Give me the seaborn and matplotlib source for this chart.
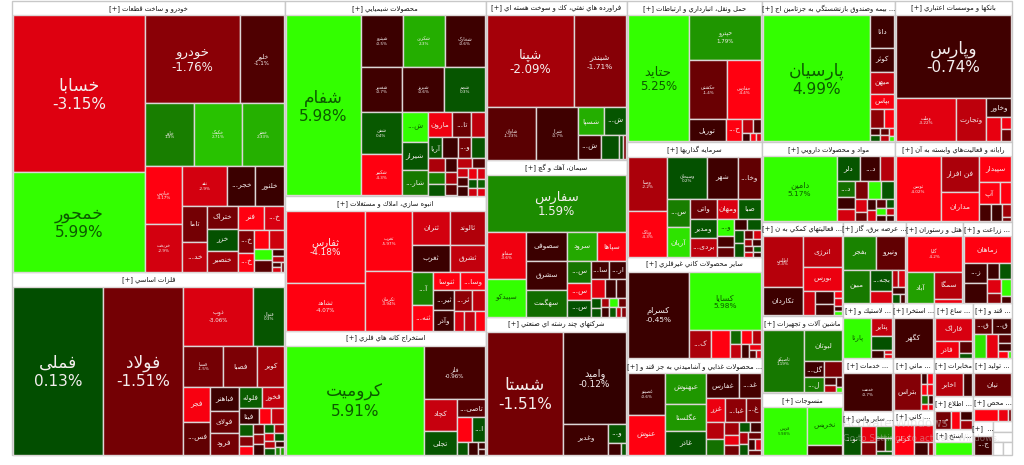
import unicodedata
import matplotlib
matplotlib.use("Agg")
import matplotlib.pyplot as plt
import seaborn as sns

# ---------- data: name, percent change and cell size of every symbol, per market sector ----------
auto_title = "خودرو و ساخت قطعات"
auto_names = ["خسابا","خمحور","خودرو","خلور","خاور","خکمک","خعتر","خپارس","خریخت","نقد","خجر...","خلنور","تاما","خد...","ختراک","خزر","خنصیر","فنر","خ...","خ...","خ...","","","","","","","","",""]
auto_pct = [-3.15,5.99,-1.76,-1.1,1.3,2.71,2.33,-4.17,-2.9,-2.9,-0.5,-0.4,-1.5,-2.6,-1.5,0.2,-2.0,-4.0,-3.0,-1.6,-4.0,-4.2,-2.8,5.5,-1.2,-0.9,-2.4,-0.8,-3.0,-1.5]
auto_size = [20567,13100,8160,3825,3087,3024,2646,2124,1728,1755,1131,1131,888,720,720,660,630,600,480,384,304,280,280,198,204,88,77,40,40,30]
auto_strips = [2,2,3,2,3,2,3,2,2,2,2]

metal_title = "فلزات اساسي"
metal_names = ["فملی","فولاد","ذوب","فنوال","فسپا","فصبا","کویر","فجر","فس...","فباهنر","فولای","فرود","فلوله","فخوز","فیتا","","","","","","","","","","","","","","","","",""]
metal_pct = [0.13,-1.51,-3.06,0.3,-1.5,-1.6,-2.0,-3.8,-1.3,-0.6,-1.4,-1.5,0.5,-2.6,-0.5,-4.3,-2.6,0.4,-1.7,-4.2,-1.3,-1.9,-0.6,0.3,-2.1,-3.0,0.2,-2.4,0.3,-0.5,1.4,2.0]
metal_size = [14952,13272,4060,1798,1600,1400,1080,910,858,672,616,616,483,462,320,192,208,168,140,126,110,110,110,90,90,85,80,70,70,50,40,30]
metal_strips = [1,1,2,3,2,3,2,3,3]

chem_title = "محصولات شيميايي"
chem_names = ["شفام","شپترو","شکربن","شخارک","شغدیر","شبریز","شجم","شفن","شکبیر","ش...","شیراز","شار...","مارون","تا...","","آریا","","و...","","","","","","","","","","","","","","","","","",""]
chem_pct = [5.98,-0.5,2.3,-0.6,-0.7,-0.6,0.3,0.4,-4.3,5.5,0.3,1.2,-3.6,-1.4,-2.5,0.3,-0.5,-1.5,0.3,-2.2,1.3,0.3,-0.7,-2.2,-1.2,-2.5,-1.1,-2.8,-1.0,-0.5,-3.5,-3.0,0.3,0.6,-2.8,-3.2]
chem_size = [12780,2064,2016,1968,1806,1806,1763,1634,1634,720,696,624,572,462,330,288,306,270,270,224,196,182,165,140,130,130,120,105,100,100,90,85,80,70,60,55]
chem_strips = [1,3,3,2,-3,3,4,3]

build_title = "انبوه سازي، املاك و مستغلات"
build_names = ["ثفارس","ثشاهد","ثغرب ","ثکرمان","ثتران","ثالوند","ثغرب","ثشرق","آ...","ثنه...","ثنوسا","وسا...","ثیر...","وآذر","ثر...","","","",""]
build_pct = [-4.18,-4.07,-5.97,-3.94,-2.9,-2.3,-0.5,-2.6,1.4,-4.2,-4.1,-4.0,-0.5,-0.6,-1.8,-2.5,-3.0,-2.6,-4.2]
build_size = [5616,3744,2760,2760,1287,1155,1053,945,693,525,468,450,400,400,380,260,200,200,190]
build_strips = [2,-2,2,2,2,2,-2,2,1]

mine_title = "استخراج كانه هاي فلزي"
mine_names = ["کرومیت","فلز","کچاد","تجلی","تاصی...","","ا...","","","",""]
mine_pct = [5.91,-0.96,-2.7,0.3,-1.2,-4.2,0.2,0.3,-0.6,-0.5,-0.7]
mine_size = [14933,3224,1056,759,522,384,312,143,130,49,42]
mine_strips = [1,1,2,1,2,1,1]

oil_title = "فراورده هاي نفتي، كك و سوخت هسته اي"
oil_names = ["شپنا","شبندر","شاوان","شراز","شسپا","ش...","ش...","","",""]
oil_pct = [-2.09,-1.71,-1.23,-0.7,2.3,0.3,-0.5,0.2,0.2,-1.6]
oil_size = [7830,4680,2544,2173,700,616,528,432,91,70]
oil_strips = [2,1,1,2,1,1,2]

cem_title = "سيمان، آهك و گچ"
cem_names = ["سفارس","سفانو","سپیدکو","سصوفی","سشرق","سهگمت","سرود","سپاها","س...","س...","س...","سا...","ار...","","","","","","","","","","","",""]
cem_pct = [1.59,-3.6,5.1,-0.5,-0.6,0.9,2.2,-4.0,1.1,-3.9,0.2,-0.9,-0.6,-3.3,-0.5,-0.6,0.2,0.3,-2.1,-0.6,4.8,-1.4,0.4,-2.6,-1.7]
cem_size = [7560,1776,1406,1140,1102,1026,832,806,528,396,374,300,285,256,208,176,85,80,75,75,70,65,60,50,45]
cem_strips = [1,2,3,2,3,2,3]

multi_title = "شركتهاي چند رشته اي صنعتي"
multi_names = ["شستا","واميد","وغدیر","و...","",""]
multi_pct = [-1.51,-0.12,-0.6,0.3,-0.6,0.3]
multi_size = [9348,5733,1364,342,143,55]
multi_strips = [1,1,1,1,1,1]

trans_title = "حمل ونقل، انبارداري و ارتباطات"
trans_names = ["حتاید","حپترو","حکشتی","حفارس","توریل","ح...","","","","",""]
trans_pct = [5.25,1.79,-1.4,-4.4,-0.6,-4.3,-2.4,-1.0,-0.5,-4.0,-2.9]
trans_size = [7560,3139,2242,1947,792,352,143,104,64,56,40]
trans_strips = [1,1,2,1,1,2]

inv_title = "سرمايه گذاريها"
inv_names = ["وصنا","وبانک","وسبحان","شهر","وخا...","س...","آریان","واتی","ومدیر","بردی...","ومهان","صبا","و...","","","","","","","","","","","","","",""]
inv_pct = [-2.2,-4.3,0.2,-0.7,-1.3,1.3,3.4,-1.4,0.3,-2.5,-3.1,0.4,5.0,-1.0,-1.3,-0.5,0.3,0.3,0.3,-1.3,-3.0,-2.0,-0.6,-1.3,-3.0,0.3,-0.6]
inv_size = [2052,1710,1600,1240,920,616,638,520,494,468,418,440,288,170,160,140,140,125,125,80,70,60,60,50,45,40,35]
inv_strips = [2,3,2,3,2,3]

nonmet_title = "ساير محصولات كاني غيرفلزي"
nonmet_names = ["کسرام","کسایا","ک...","","","","","","","","",""]
nonmet_pct = [-0.45,5.98,-2.2,-4.2,0.8,-2.6,-4.0,-2.3,-0.7,-3.5,-1.2,-3.0]
nonmet_size = [5220,4161,580,522,143,150,140,125,110,70,50,40]
nonmet_strips = [1,1,1,1]

food_title = "محصولات غذايي و آشاميدني به جز قند و"
food_names = ["غصینو","عنوش","عبهنوش","عگلستا","غاذر","غفارس","غد...","غزر","غبا...","غ...","","","","","","","","","","","","",""]
food_pct = [-0.6,-4.2,1.8,1.8,0.3,-0.6,-0.9,-3.5,-1.8,-1.6,-2.4,1.0,-2.0,-3.5,-1.5,0.3,-0.7,-2.2,0.3,-1.4,-0.6,-3.0,-1.3]
food_size = [1470,1365,1178,1026,874,770,506,420,441,336,285,252,165,135,120,110,100,100,90,80,75,60,50]
food_strips = [2,3,2,3,2]

ins_title = "بيمه وصندوق بازنشستگي به جزتامين اج"
ins_names = ["پارسیان","دانا","کوثر","میهن","بپاس","","","","","","","",""]
ins_pct = [4.99,-0.6,-0.7,-2.6,-3.8,-1.8,-4.2,-0.6,0.3,-1.3,-2.5,-3.5,4.0]
ins_size = [13356,750,575,500,350,266,190,72,60,58,50,40,30]
ins_strips = [1,1,1,1,1,2]

bank_title = "بانكها و موسسات اعتباري"
bank_names = ["وپارس","وملت","وتجارت","وخاور","","",""]
bank_pct = [-0.74,-3.22,-2.5,-0.6,-3.4,-3.6,-1.4]
bank_size = [9512,2580,1290,475,360,120,120]
bank_strips = [1,1,1,1,1,1,1]

drug_title = "مواد و محصولات دارويي"
drug_names = ["دامین","دلر","د...","","د...","","","","","","","","","","","","","","",""]
drug_pct = [5.17,0.3,-0.6,-2.4,1.0,-0.5,-2.9,-1.6,5.5,0.3,-3.1,-1.4,-0.7,-3.0,-1.2,0.3,5.0,-0.6,-2.6,-0.5]
drug_size = [4550,552,460,322,272,221,204,224,224,224,150,100,90,90,90,70,70,60,50,45]
drug_strips = [1,3,3,3]

it_title = "رايانه و فعاليت\u200cهاي وابسته به آن"
it_names = ["توسن","فن افزار","مداران","سپیدار","آپ","","","","",""]
it_pct = [-4.02,-2.2,-4.2,-4.1,-4.2,-4.0,-1.0,-0.5,-2.0,-1.5]
it_size = [2860,1330,1102,792,441,252,190,190,110,40]
it_strips = [1,2,1,2,1,1]

aux_title = "فعاليتهاي كمكي به ن"
aux_names = ["اطلس","تکاردان","انرژی","بورس","","","","","","",""]
aux_pct = [-2.4,-0.6,-2.5,-3.5,-2.8,-0.6,-0.7,-4.1,-3.0,-0.5,5.0]
aux_size = [1920,1080,1102,874,286,228,190,60,60,40,30]
aux_strips = [2,1,1,1,2]

mach_title = "ماشين آلات و تجهيزات"
mach_names = ["تاصیکو","لبوتان","گل...","ل...","","","","",""]
mach_pct = [1.19,1.3,-0.6,1.3,-1.6,-1.0,-2.4,-0.7,5.0]
mach_size = [2542,1140,304,285,288,90,90,60,30]
mach_strips = [1,1,2,1]

text_title = "منسوجات"
text_names = ["قرس","نخریس",""]
text_pct = [5.98,5.6,-0.7]
text_size = [2068,1330,315]
text_strips = [1,1]

power_title = "عرضه برق، گاز"
power_names = ["بفجر","ونیرو","مبین","بجه...","","","","","",""]
power_pct = [1.4,-1.3,1.2,0.3,-3.0,-2.4,-3.0,-0.6,0.3,-1.0]
power_size = [960,840,770,420,231,100,100,80,60,40]
power_strips = [2,1,2,2]

hotel_title = "هتل و رستوران"
hotel_names = ["گلپا","آباد","سمگا",""]
hotel_pct = [-4.2,2.0,-2.4,-3.5]
hotel_size = [1904,840,728,112]
hotel_strips = [1,1,1]

farm_title = "زراعت و"
farm_names = ["زماهان","ز...","","","","","","",""]
farm_pct = [-4.1,-0.6,-0.6,-0.6,0.3,-3.2,-1.8,5.0,-0.9]
farm_size = [1104,420,400,169,169,156,117,156,60]
farm_strips = [1,2,2,2]

tire_title = "لاستيك و"
tire_names = ["پارتا","پتایر","","","",""]
tire_pct = [5.2,-2.6,0.2,-0.6,-3.0,-3.5]
tire_size = [1107,378,294,112,32,30]
tire_strips = [1,1,1,1]

serv_title = "خدمات"
serv_names = ["خدمت"]
serv_pct = [-0.7]
serv_size = [1824]

other_title = "ساير واس"
other_names = ["تو...","","","","","",""]
other_pct = [0.3,-3.4,-1.7,1.3,-0.8,1.0,0.3]
other_size = [495,252,200,190,110,90,60]
other_strips = [1]

ext_title = "استخرا"
ext_names = ["کگهر"]
ext_pct = [-0.7]
ext_size = [1406]

sug_title = "ساع"
sug_names = ["فاراک","فاذر","",""]
sug_pct = [-3.0,-3.6,-1.2,0.3]
sug_size = [814,391,156,65]
sug_strips = [1,1,1,1]

qand_title = "قند و"
qand_names = ["ق...","ق...","","","","","",""]
qand_pct = [-1.3,-0.8,3.4,-3.4,-1.2,-0.6,-4.0,5.0]
qand_size = [270,270,252,252,100,96,60,20]
qand_strips = [2,1,1]

mani_title = "ماني"
mani_names = ["بتراس","","","","","","","",""]
mani_pct = [-1.7,-0.6,-4.1,-4.0,-3.8,1.0,-0.5,-3.9,-3.5]
mani_size = [1026,65,70,65,60,55,45,40,30]
mani_strips = [1]

kani_title = "كاني"
kani_names = ["کزام","","",""]
kani_pct = [-4.3,-3.5,-0.7,-2.0]
kani_size = [600,340,170,60]
kani_strips = [1]

tel_title = "مخابرات"
tel_names = ["اخابر",""]
tel_pct = [-2.4,-0.8]
tel_size = [672,216]
tel_strips = [1]

prod_title = "توليد"
prod_names = ["نیان"]
prod_pct = [-1.4]
prod_size = [912]

info_title = "اطلاع"
info_names = ["م...","","",""]
info_pct = [-1.5,-4.3,-0.6,-2.0]
info_size = [304,165,120,114]
info_strips = [1,1]

ist_title = "استخ"
ist_names = [""]
ist_pct = [5.3]
ist_size = [468]

mahs_title = "محص"
mahs_names = ["","",""]
mahs_pct = [-4.2,-3.5,-1.5]
mahs_size = [264,110,30]

last_title = ""
last_names = ["ج..."]
last_pct = [-0.6]
last_size = [418]

sector_titles = [auto_title, metal_title, chem_title, build_title, mine_title, oil_title, cem_title, multi_title,
                 trans_title, inv_title, nonmet_title, food_title, ins_title, bank_title, drug_title, it_title,
                 aux_title, mach_title, text_title, power_title, hotel_title, farm_title, tire_title, serv_title,
                 other_title, ext_title, sug_title, qand_title, mani_title, kani_title, tel_title, prod_title,
                 info_title, ist_title, mahs_title, last_title]
# sector size, title strip included
sector_sizes = [73983,49959,39195,27135,24924,22419,22137,19458,19035,15525,13635,13095,18753,16497,10640,9360,
                7614,6237,5022,5166,4674,4018,2750,2652,2205,2255,2145,2145,2132,1845,1482,1482,1287,1014,975,680]
blank_sizes = [209,190,127,120]
sector_strips = [2,3,3,4,2,2,3,3,3,3,2,2,2,1,1,1,1,1,1]
sector_cells = [
    (auto_names,auto_pct,auto_size,auto_strips),(metal_names,metal_pct,metal_size,metal_strips),
    (chem_names,chem_pct,chem_size,chem_strips),(build_names,build_pct,build_size,build_strips),
    (mine_names,mine_pct,mine_size,mine_strips),(oil_names,oil_pct,oil_size,oil_strips),
    (cem_names,cem_pct,cem_size,cem_strips),(multi_names,multi_pct,multi_size,multi_strips),
    (trans_names,trans_pct,trans_size,trans_strips),(inv_names,inv_pct,inv_size,inv_strips),
    (nonmet_names,nonmet_pct,nonmet_size,nonmet_strips),(food_names,food_pct,food_size,food_strips),
    (ins_names,ins_pct,ins_size,ins_strips),(bank_names,bank_pct,bank_size,bank_strips),
    (drug_names,drug_pct,drug_size,drug_strips),(it_names,it_pct,it_size,it_strips),
    (aux_names,aux_pct,aux_size,aux_strips),(mach_names,mach_pct,mach_size,mach_strips),
    (text_names,text_pct,text_size,text_strips),(power_names,power_pct,power_size,power_strips),
    (hotel_names,hotel_pct,hotel_size,hotel_strips),(farm_names,farm_pct,farm_size,farm_strips),
    (tire_names,tire_pct,tire_size,tire_strips),(serv_names,serv_pct,serv_size,[]),
    (other_names,other_pct,other_size,other_strips),(ext_names,ext_pct,ext_size,[]),
    (sug_names,sug_pct,sug_size,sug_strips),(qand_names,qand_pct,qand_size,qand_strips),
    (mani_names,mani_pct,mani_size,mani_strips),(kani_names,kani_pct,kani_size,kani_strips),
    (tel_names,tel_pct,tel_size,tel_strips),(prod_names,prod_pct,prod_size,[]),
    (info_names,info_pct,info_size,info_strips),(ist_names,ist_pct,ist_size,[]),
    (mahs_names,mahs_pct,mahs_size,[]),(last_names,last_pct,last_size,[]),
]
# sectors whose title the page cuts off at its right-hand start
truncated_titles = {food_title, ins_title, aux_title, power_title, farm_title, tire_title, serv_title, other_title,
                    ext_title, sug_title, qand_title, mani_title, kani_title, prod_title, info_title, ist_title,
                    mahs_title, last_title}

# ---------- Persian text shaping (matplotlib draws glyphs left to right, unjoined) ----------
FORMS = {}
for cp in list(range(0xFB50, 0xFE00)) + list(range(0xFE70, 0xFF00)):
    d = unicodedata.decomposition(chr(cp)).split()
    if len(d) == 2 and d[0] in ("<isolated>", "<final>", "<initial>", "<medial>"):
        FORMS.setdefault(chr(int(d[1], 16)), {})[d[0][1:-1]] = chr(cp)
RIGHT_ONLY = set("اآأإدذرزژوؤة")
LAM_ALEF = {"ا": ("\ufefb", "\ufefc"), "آ": ("\ufef5", "\ufef6"), "أ": ("\ufef7", "\ufef8"), "إ": ("\ufef9", "\ufefa")}


def fa(s):
    out, i = [], 0
    joinable = lambda c: c in FORMS and c != "ء"
    while i < len(s):
        c = s[i]
        if c == "\u200c":
            i += 1
            continue
        prev = s[i - 1] if i else ""
        pj = joinable(prev) and prev not in RIGHT_ONLY
        if c == "ل" and i + 1 < len(s) and s[i + 1] in LAM_ALEF:
            out.append(LAM_ALEF[s[i + 1]][1 if pj else 0])
            i += 2
            continue
        if c not in FORMS:
            out.append(c)
            i += 1
            continue
        nxt = s[i + 1] if i + 1 < len(s) else ""
        nj = joinable(nxt) and c not in RIGHT_ONLY
        key = {(0, 0): "isolated", (1, 0): "final", (0, 1): "initial", (1, 1): "medial"}[(int(pj), int(nj))]
        out.append(FORMS[c].get(key, FORMS[c].get("isolated", c)))
        i += 1
    return "".join(reversed(out))


# ---------- treemap layout from the values ----------
def worst(vals, side, scale):
    s = sum(vals) * scale
    return max(max(side * side * v * scale / (s * s), s * s / (side * side * v * scale)) for v in vals)


def layout(vals, rect, counts, bias=1.0):
    # each strip takes the next count values; a negative count keeps the strip a column
    x0, y0, x1, y1 = rect
    n, i, k, out = len(vals), 0, 0, []
    while i < n:
        w, h, total = x1 - x0, y1 - y0, sum(vals[i:])
        column = w * bias >= h
        if k < len(counts):
            c = counts[k]
            k += 1
            if c < 0:
                c, column = -c, True
        else:
            side, scale, c = min(w, h), w * h / total, 1
            while i + c < n and worst(vals[i:i + c + 1], side, scale) <= worst(vals[i:i + c], side, scale):
                c += 1
        part = vals[i:i + c]
        frac = sum(part) / total
        if column:
            xm, y = x0 + w * frac, y0
            for v in part:
                dy = h * v / sum(part)
                out.append((x0, y, xm, y + dy))
                y += dy
            x0 = xm
        else:
            ym, x = y0 + h * frac, x0
            for v in part:
                dx = w * v / sum(part)
                out.append((x, y0, x + dx, ym))
                x += dx
            y0 = ym
        i += c
    return out


# ---------- colours ----------
sns.set_theme(style="white")
plt.rcParams["font.family"] = ["DejaVu Sans"]
reds = sns.blend_palette(["#300000", "#460000", "#a00008", "#d80010", "#ff0010"], as_cmap=True)
greens = sns.blend_palette(["#004a00", "#147000", "#22a000", "#2ad000", "#33ff00", "#33ff00"], as_cmap=True)


def colour(p):
    return reds(min(-p / 4, 1.0)) if p < 0 else greens(min(p / 5, 1.0))


def label_style(area):
    if area >= 9000:
        return 11, True
    if area >= 7000:
        return 8.5, True
    if area >= 5500:
        return 6.4, True
    if area >= 4150:
        return 5.3, True
    if area >= 3200:
        return 4.0, True
    if area >= 1600:
        return 3.0, True
    return 5.3, False


# ---------- draw ----------
fig = plt.figure(figsize=(10.24, 4.65), dpi=100, facecolor="white")
ax = fig.add_axes([0, 0, 1, 1])
frame = (12, 1, 1012, 455)
HEAD = 14.5
sector_rects = layout(sector_sizes + blank_sizes, frame, sector_strips, bias=1.19)

ax.bar([r[0] for r in sector_rects], [r[3] - r[1] for r in sector_rects], [r[2] - r[0] for r in sector_rects],
       bottom=[r[1] for r in sector_rects], align="edge", color="white", edgecolor="#c8c8c8", linewidth=1.0, zorder=1)

xs, ys, ws, hs, cs = [], [], [], [], []
for title, sr, (names, pcts, sizes, strips) in zip(sector_titles, sector_rects, sector_cells):
    x0, y0, x1, y1 = sr
    head = min(HEAD, (y1 - y0) * 0.5)
    text = "[+] " + fa(title) + (" ..." if title in truncated_titles else "")
    ax.text((x0 + x1) / 2, y0 + head / 2 + 0.3, text, ha="center", va="center", fontsize=4.9, color="#111111",
            zorder=4, clip_on=True)
    cells = layout(sizes, (x0 + 0.8, y0 + head, x1 - 0.8, y1 - 0.5), strips)
    for nm, p, c in zip(names, pcts, cells):
        w, h = c[2] - c[0], c[3] - c[1]
        xs.append(c[0]); ys.append(c[1]); ws.append(w); hs.append(h); cs.append(colour(p))
        if not nm or w < 11 or h < 8:
            continue
        fs, two_line = label_style(w * h)
        tc = "#0c5a00" if p >= 3.5 else "#f4eeee"
        cx, cy = c[0] + w / 2, c[1] + h / 2
        if two_line:
            em = fs * 100 / 72
            ax.text(cx, cy - 0.5 * em, fa(nm.strip()), ha="center", va="center", fontsize=fs * 1.12, color=tc, zorder=4)
            ax.text(cx, cy + 0.72 * em, f"{p:g}%", ha="center", va="center", fontsize=fs, color=tc, zorder=4)
        else:
            ax.text(cx, cy, fa(nm.strip()), ha="center", va="center", fontsize=fs, color=tc, zorder=4)
ax.bar(xs, hs, ws, bottom=ys, align="edge", color=cs, edgecolor="#dcd6d6", linewidth=1.0, zorder=2)

ax.text(843, 423, "Activate Windows", fontsize=8.5, color="#cccccc", alpha=0.45, va="center", zorder=5)
ax.text(843, 438, "Go to Settings to activate Windows.", fontsize=6.3, color="#cccccc", alpha=0.45, va="center", zorder=5)

ax.set_xlim(0, 1024)
ax.set_ylim(465, 0)
ax.axis("off")
fig.savefig("out.png", dpi=100, facecolor="white")
